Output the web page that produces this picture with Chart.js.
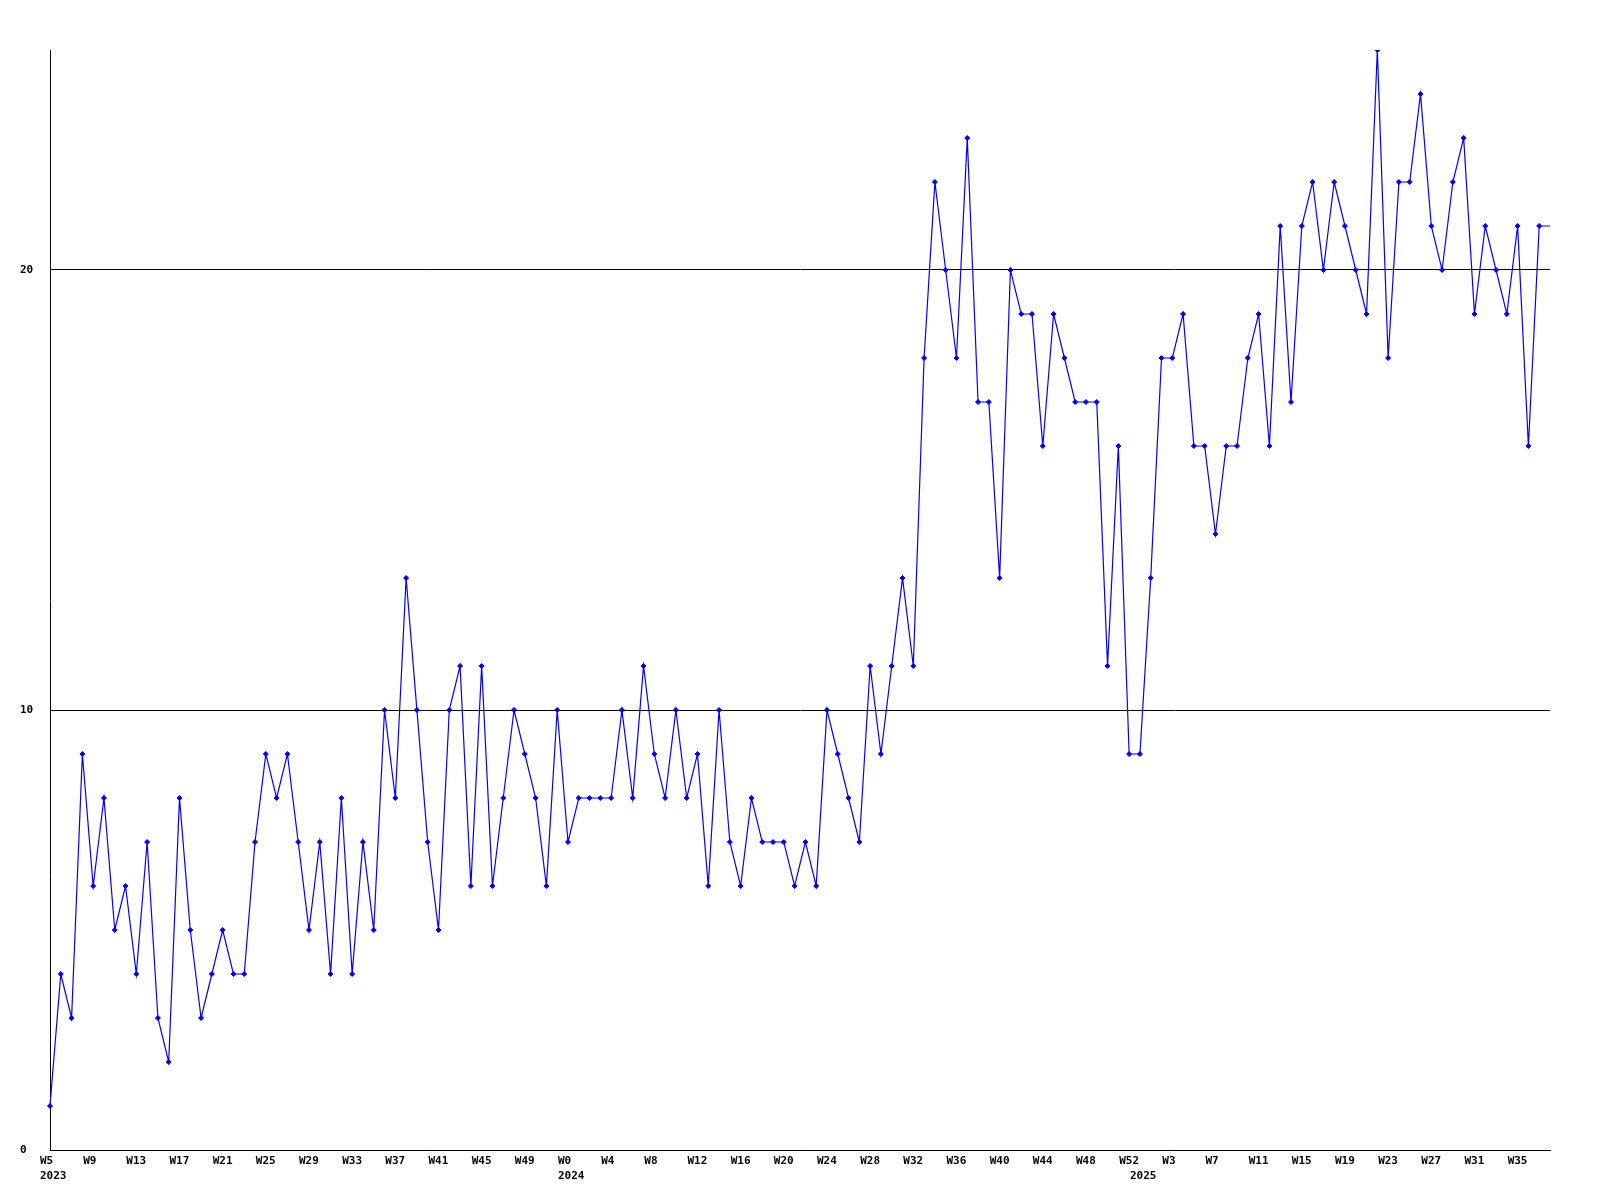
<!DOCTYPE html>
<html>
<head>
<meta charset="utf-8">
<title>Weekly count</title>
<script src="https://cdn.jsdelivr.net/npm/chart.js@4.4.1/dist/chart.umd.min.js"></script>
<style>
  body { margin: 0; background: #fff; }
  #wrap { width: 1600px; height: 1200px; }
</style>
</head>
<body>
<div id="wrap"><canvas id="weeklyChart" width="1600" height="1200"></canvas></div>
<script>
// years and the week range each one covers in the data
const years = [2023, 2024, 2025];
const firstWeek = [5, 0, 0];
const lastWeek = [52, 52, 38];

// one value per week
const values = [
    1, 4, 3, 9, 6, 8, 5, 6, 4, 7,
    3, 2, 8, 5, 3, 4, 5, 4, 4, 7,
    9, 8, 9, 7, 5, 7, 4, 8, 4, 7,
    5, 10, 8, 13, 10, 7, 5, 10, 11, 6,
    11, 6, 8, 10, 9, 8, 6, 10, 7, 8,
    8, 8, 8, 10, 8, 11, 9, 8, 10, 8,
    9, 6, 10, 7, 6, 8, 7, 7, 7, 6,
    7, 6, 10, 9, 8, 7, 11, 9, 11, 13,
    11, 18, 22, 20, 18, 23, 17, 17, 13, 20,
    19, 19, 16, 19, 18, 17, 17, 17, 11, 16,
    9, 9, 13, 18, 18, 19, 16, 16, 14, 16,
    16, 18, 19, 16, 21, 17, 21, 22, 20, 22,
    21, 20, 19, 25, 18, 22, 22, 24, 21, 20,
    22, 23, 19, 21, 20, 19, 21, 16, 21, 21
];

// y axis
const yTicks = [0, 10, 20];
const yMax = 25;
const labelEvery = 4;

// build categories: week number + year
const weekNums = [];
const weekYears = [];
years.forEach((y, k) => {
    for (let w = firstWeek[k]; w <= lastWeek[k]; w++) {
        weekNums.push(w);
        weekYears.push(y);
    }
});
const categories = weekNums.map((w, i) => weekYears[i] + '-W' + w);

const font = { family: '"DejaVu Sans Mono", monospace', size: 11, weight: 'bold', lineHeight: '15px' };

const ctx = document.getElementById('weeklyChart').getContext('2d');
new Chart(ctx, {
    type: 'line',
    data: {
        labels: categories,
        datasets: [{
            data: values,
            borderColor: '#0000ff',
            backgroundColor: '#0000ff',
            borderWidth: 1.2,
            tension: 0,
            fill: false,
            pointStyle: 'rectRot',
            // the last week has no marker in the original
            pointRadius: (c) => c.dataIndex === values.length - 1 ? 0 : 2.5,
            pointBorderWidth: 1,
            pointBorderColor: '#0000ff',
            pointBackgroundColor: '#0000ff'
        }]
    },
    options: {
        responsive: false,
        animation: false,
        layout: { padding: { left: 20, top: 50, right: 50, bottom: 0 } },
        plugins: {
            legend: { display: false },
            tooltip: { enabled: false }
        },
        scales: {
            x: {
                offset: false,
                grid: { drawOnChartArea: false, drawTicks: false },
                border: { display: true, color: '#000', width: 1 },
                afterFit: (scale) => { scale.height = 50; },
                ticks: {
                    autoSkip: false,
                    maxRotation: 0,
                    minRotation: 0,
                    align: 'start',
                    labelOffset: -10,
                    padding: 4,
                    color: '#000',
                    font: font,
                    callback: (val, i) => {
                        const top = i % labelEvery === 0 ? 'W' + weekNums[i] : '';
                        const newYear = i === 0 || weekYears[i] !== weekYears[i - 1];
                        if (newYear) return [top, String(weekYears[i])];
                        return top;
                    }
                }
            },
            y: {
                min: 0,
                max: yMax,
                afterFit: (scale) => { scale.width = 30; },
                afterBuildTicks: (scale) => { scale.ticks = yTicks.map(v => ({ value: v })); },
                grid: { color: '#000', lineWidth: 1, drawTicks: false },
                border: { display: true, color: '#000', width: 1 },
                ticks: {
                    crossAlign: 'far',
                    padding: 0,
                    color: '#000',
                    font: font
                }
            }
        }
    }
});
</script>
</body>
</html>
